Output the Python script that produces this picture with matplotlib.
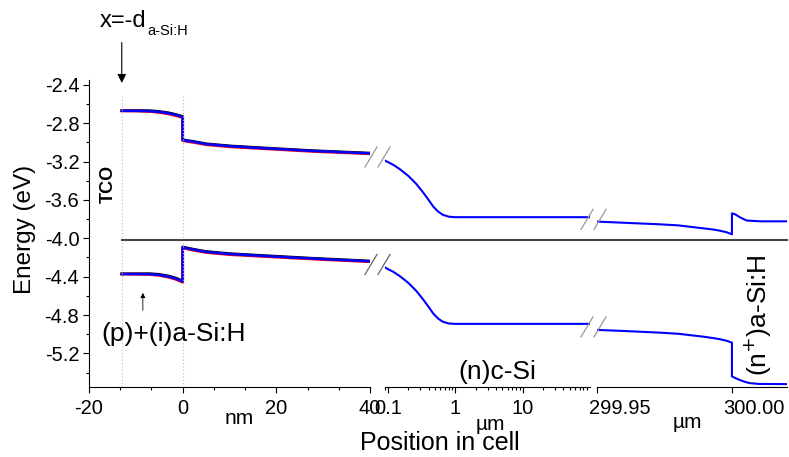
import matplotlib
matplotlib.use("Agg")
import matplotlib.pyplot as plt
from matplotlib.lines import Line2D
from matplotlib.transforms import ScaledTranslation
from matplotlib.ticker import AutoMinorLocator, MultipleLocator, FixedLocator, LogLocator, NullFormatter, FormatStrFormatter

plt.rcParams['font.family'] = ['Liberation Sans', 'DejaVu Sans']
plt.rcParams['axes.unicode_minus'] = False

# segment 1: front a-Si:H / c-Si, position in nm
x_nm = [-13, -10, -7, -5, -3, -1.5, 0, 0, 1, 2.5, 5, 10, 18, 28, 40]
cb_nm_black = [-2.669, -2.669, -2.670, -2.678, -2.692, -2.709, -2.730, -2.972, -2.981, -2.992, -3.015, -3.037, -3.060, -3.087, -3.112]
cb_nm_red = [-2.672, -2.673, -2.678, -2.688, -2.704, -2.721, -2.742, -2.982, -2.991, -3.002, -3.024, -3.046, -3.068, -3.095, -3.119]
cb_nm_blue = [-2.671, -2.672, -2.675, -2.683, -2.697, -2.713, -2.735, -2.976, -2.985, -2.996, -3.018, -3.040, -3.063, -3.090, -3.115]
vb_nm_black = [-4.370, -4.370, -4.369, -4.376, -4.394, -4.414, -4.444, -4.090, -4.101, -4.116, -4.138, -4.160, -4.182, -4.209, -4.237]
vb_nm_red = [-4.373, -4.373, -4.377, -4.387, -4.406, -4.427, -4.458, -4.100, -4.111, -4.126, -4.148, -4.170, -4.191, -4.217, -4.244]
vb_nm_blue = [-4.372, -4.372, -4.374, -4.382, -4.400, -4.420, -4.450, -4.094, -4.105, -4.120, -4.142, -4.164, -4.186, -4.212, -4.240]

# segment 2: c-Si bulk, position in um (log)
x_um = [0.09, 0.12, 0.15, 0.2, 0.26, 0.33, 0.4, 0.47, 0.55, 0.65, 0.8, 1.0, 100]
cb_um = [-3.19, -3.235, -3.28, -3.35, -3.43, -3.52, -3.60, -3.67, -3.72, -3.755, -3.775, -3.78, -3.78]
vb_um = [-4.305, -4.35, -4.395, -4.465, -4.545, -4.635, -4.715, -4.785, -4.835, -4.87, -4.888, -4.892, -4.892]

# segment 3: rear (n+)a-Si:H, position in um
x_rear_cb = [299.95, 299.96, 299.973, 299.98, 299.989, 299.993, 299.9956, 299.998, 300.0, 300.0, 300.0012, 300.003, 300.0055, 300.0105, 300.0204]
cb_rear = [-3.826, -3.838, -3.854, -3.865, -3.895, -3.908, -3.921, -3.937, -3.958, -3.740, -3.750, -3.782, -3.815, -3.823, -3.823]
x_rear_vb = [299.95, 299.96, 299.973, 299.98, 299.989, 299.993, 299.9956, 299.998, 300.0, 300.0, 300.0015, 300.003, 300.005, 300.0067, 300.01, 300.0204]
vb_rear = [-4.955, -4.966, -4.983, -4.995, -5.024, -5.040, -5.052, -5.068, -5.087, -5.44, -5.46, -5.478, -5.498, -5.51, -5.518, -5.52]

E_F = -4.02
d_asi = -13
interface = 0

W, H = 789, 457
fig = plt.figure(figsize=(W / 100, H / 100), dpi=100)


def fx(px):
    return px / W


def fy(py):
    return 1 - py / H


ax1 = fig.add_axes([fx(89), fy(387), (370 - 89) / W, (387 - 80) / H])
ax2 = fig.add_axes([fx(385), fy(387), (590 - 385) / W, (387 - 80) / H], sharey=ax1)
ax3 = fig.add_axes([fx(597), fy(387), (787 - 597) / W, (387 - 80) / H], sharey=ax1)

ax1.plot(x_nm, cb_nm_black, color='black', lw=2)
ax1.plot(x_nm, cb_nm_red, color='red', lw=2)
ax1.plot(x_nm, cb_nm_blue, color='blue', lw=1.8)
ax1.plot(x_nm, vb_nm_black, color='black', lw=2)
ax1.plot(x_nm, vb_nm_red, color='red', lw=2)
ax1.plot(x_nm, vb_nm_blue, color='blue', lw=1.8)

ax2.plot(x_um, cb_um, color='blue', lw=1.5)
ax2.plot(x_um, vb_um, color='blue', lw=1.5)
ax3.plot(x_rear_cb, cb_rear, color='blue', lw=1.5)
ax3.plot(x_rear_vb, vb_rear, color='blue', lw=1.5)

ax1.set_ylim(-5.55, -2.35)
ax1.set_xlim(-20, 40)
ax2.set_xscale('log')
ax2.set_xlim(0.09, 100)
ax3.set_xlim(299.95, 300.0204)

ax1.vlines([d_asi, interface], -5.55, -2.52, colors='#bbbbbb', linestyles=(0, (1, 2)), lw=0.8)

for ax in (ax1, ax2, ax3):
    ax.spines['top'].set_visible(False)
    ax.spines['right'].set_visible(False)
    ax.tick_params(direction='out', labelsize=14.5, length=4, width=0.8, pad=5)
    ax.tick_params(which='minor', direction='out', length=2.5, width=0.8)
for ax in (ax2, ax3):
    ax.spines['left'].set_visible(False)
    ax.tick_params(axis='y', which='both', left=False, labelleft=False)

ax1.yaxis.set_major_locator(MultipleLocator(0.4))
ax1.yaxis.set_minor_locator(MultipleLocator(0.2))
ax1.yaxis.set_major_formatter(FormatStrFormatter('%.1f'))
ax1.tick_params(axis='y', pad=3)
ax1.xaxis.set_major_locator(MultipleLocator(20))
ax1.xaxis.set_minor_locator(AutoMinorLocator(3))

ax2.xaxis.set_major_locator(FixedLocator([0.1, 1, 10]))
ax2.xaxis.set_major_formatter(FormatStrFormatter('%g'))
ax2.xaxis.set_minor_locator(LogLocator(base=10, subs=range(2, 10), numticks=20))
ax2.xaxis.set_minor_formatter(NullFormatter())

ax3.xaxis.set_major_locator(FixedLocator([299.95, 300.0]))
ax3.xaxis.set_major_formatter(FormatStrFormatter('%.2f'))
ax3.xaxis.set_minor_locator(FixedLocator([]))
# rear labels start just left of their ticks, as in the original
shift = ScaledTranslation(-8.5 / 100, 0, fig.dpi_scale_trans)
for lab in ax3.get_xticklabels():
    lab.set_horizontalalignment('left')
    lab.set_transform(lab.get_transform() + shift)

# Fermi level running across all three segments
to_fig = fig.transFigure.inverted()
p1 = to_fig.transform(ax1.transData.transform((d_asi, E_F)))
p2 = to_fig.transform(ax3.transData.transform((ax3.get_xlim()[1], E_F)))
fig.add_artist(Line2D([p1[0], p2[0]], [p1[1], p2[1]], color='#444444', lw=1.5))


def break_mark(ax_l, ax_r, y_l, y_r, color):
    xl = ax_l.transAxes.transform((1, 0))[0]
    xr = ax_r.transAxes.transform((0, 0))[0]
    xc = (xl + xr) / 2
    yc = (ax_l.transData.transform((1, y_l))[1] + ax_r.transData.transform((1, y_r))[1]) / 2
    for dx in (-6.5, 6.5):
        a = to_fig.transform((xc + dx - 6, yc - 10))
        b = to_fig.transform((xc + dx + 6, yc + 10))
        fig.add_artist(Line2D([a[0], b[0]], [a[1], b[1]], color=color, lw=0.9))


break_mark(ax1, ax2, cb_nm_blue[-1], cb_um[0], '#999999')
break_mark(ax1, ax2, vb_nm_blue[-1], vb_um[0], '#666666')
break_mark(ax2, ax3, cb_um[-1], cb_rear[0], '#999999')
break_mark(ax2, ax3, vb_um[-1], vb_rear[0], '#999999')

# arrows
ax1.annotate('', xy=(d_asi, -2.41), xytext=(d_asi, -1.93), annotation_clip=False,
             arrowprops=dict(arrowstyle='-|>', color='black', lw=0.8, mutation_scale=13))
ax1.annotate('', xy=(-8.5, -4.54), xytext=(-8.5, -4.78),
             arrowprops=dict(arrowstyle='-|>', color='black', lw=0.6, mutation_scale=7))

# texts
fig.text(fx(100), fy(27), 'x=-d', fontsize=17, va='baseline', ha='left')
fig.text(fx(147), fy(35), 'a-Si:H', fontsize=10.5, va='baseline', ha='left')
fig.text(fx(108), fy(184), 'TCO', fontsize=13, fontweight='bold', rotation=90, ha='center', va='center')
fig.text(fx(174), fy(334), '(p)+(i)a-Si:H', fontsize=19, ha='center', va='center')
fig.text(fx(497), fy(372), '(n)c-Si', fontsize=19, ha='center', va='center')
fig.text(fx(758), fy(315), '(n$^{+}$)a-Si:H', fontsize=19, rotation=90, ha='center', va='center')

fig.text(fx(25), fy(229), 'Energy (eV)', fontsize=17.5, rotation=90, ha='center', va='center')
fig.text(fx(440), fy(443), 'Position in cell', fontsize=18, ha='center', va='center')
fig.text(fx(239), fy(418), 'nm', fontsize=15, ha='center', va='center')
fig.text(fx(490), fy(425), 'µm', fontsize=15, ha='center', va='center')
fig.text(fx(687), fy(422), 'µm', fontsize=15, ha='center', va='center')

fig.savefig('out.png', dpi=100)
